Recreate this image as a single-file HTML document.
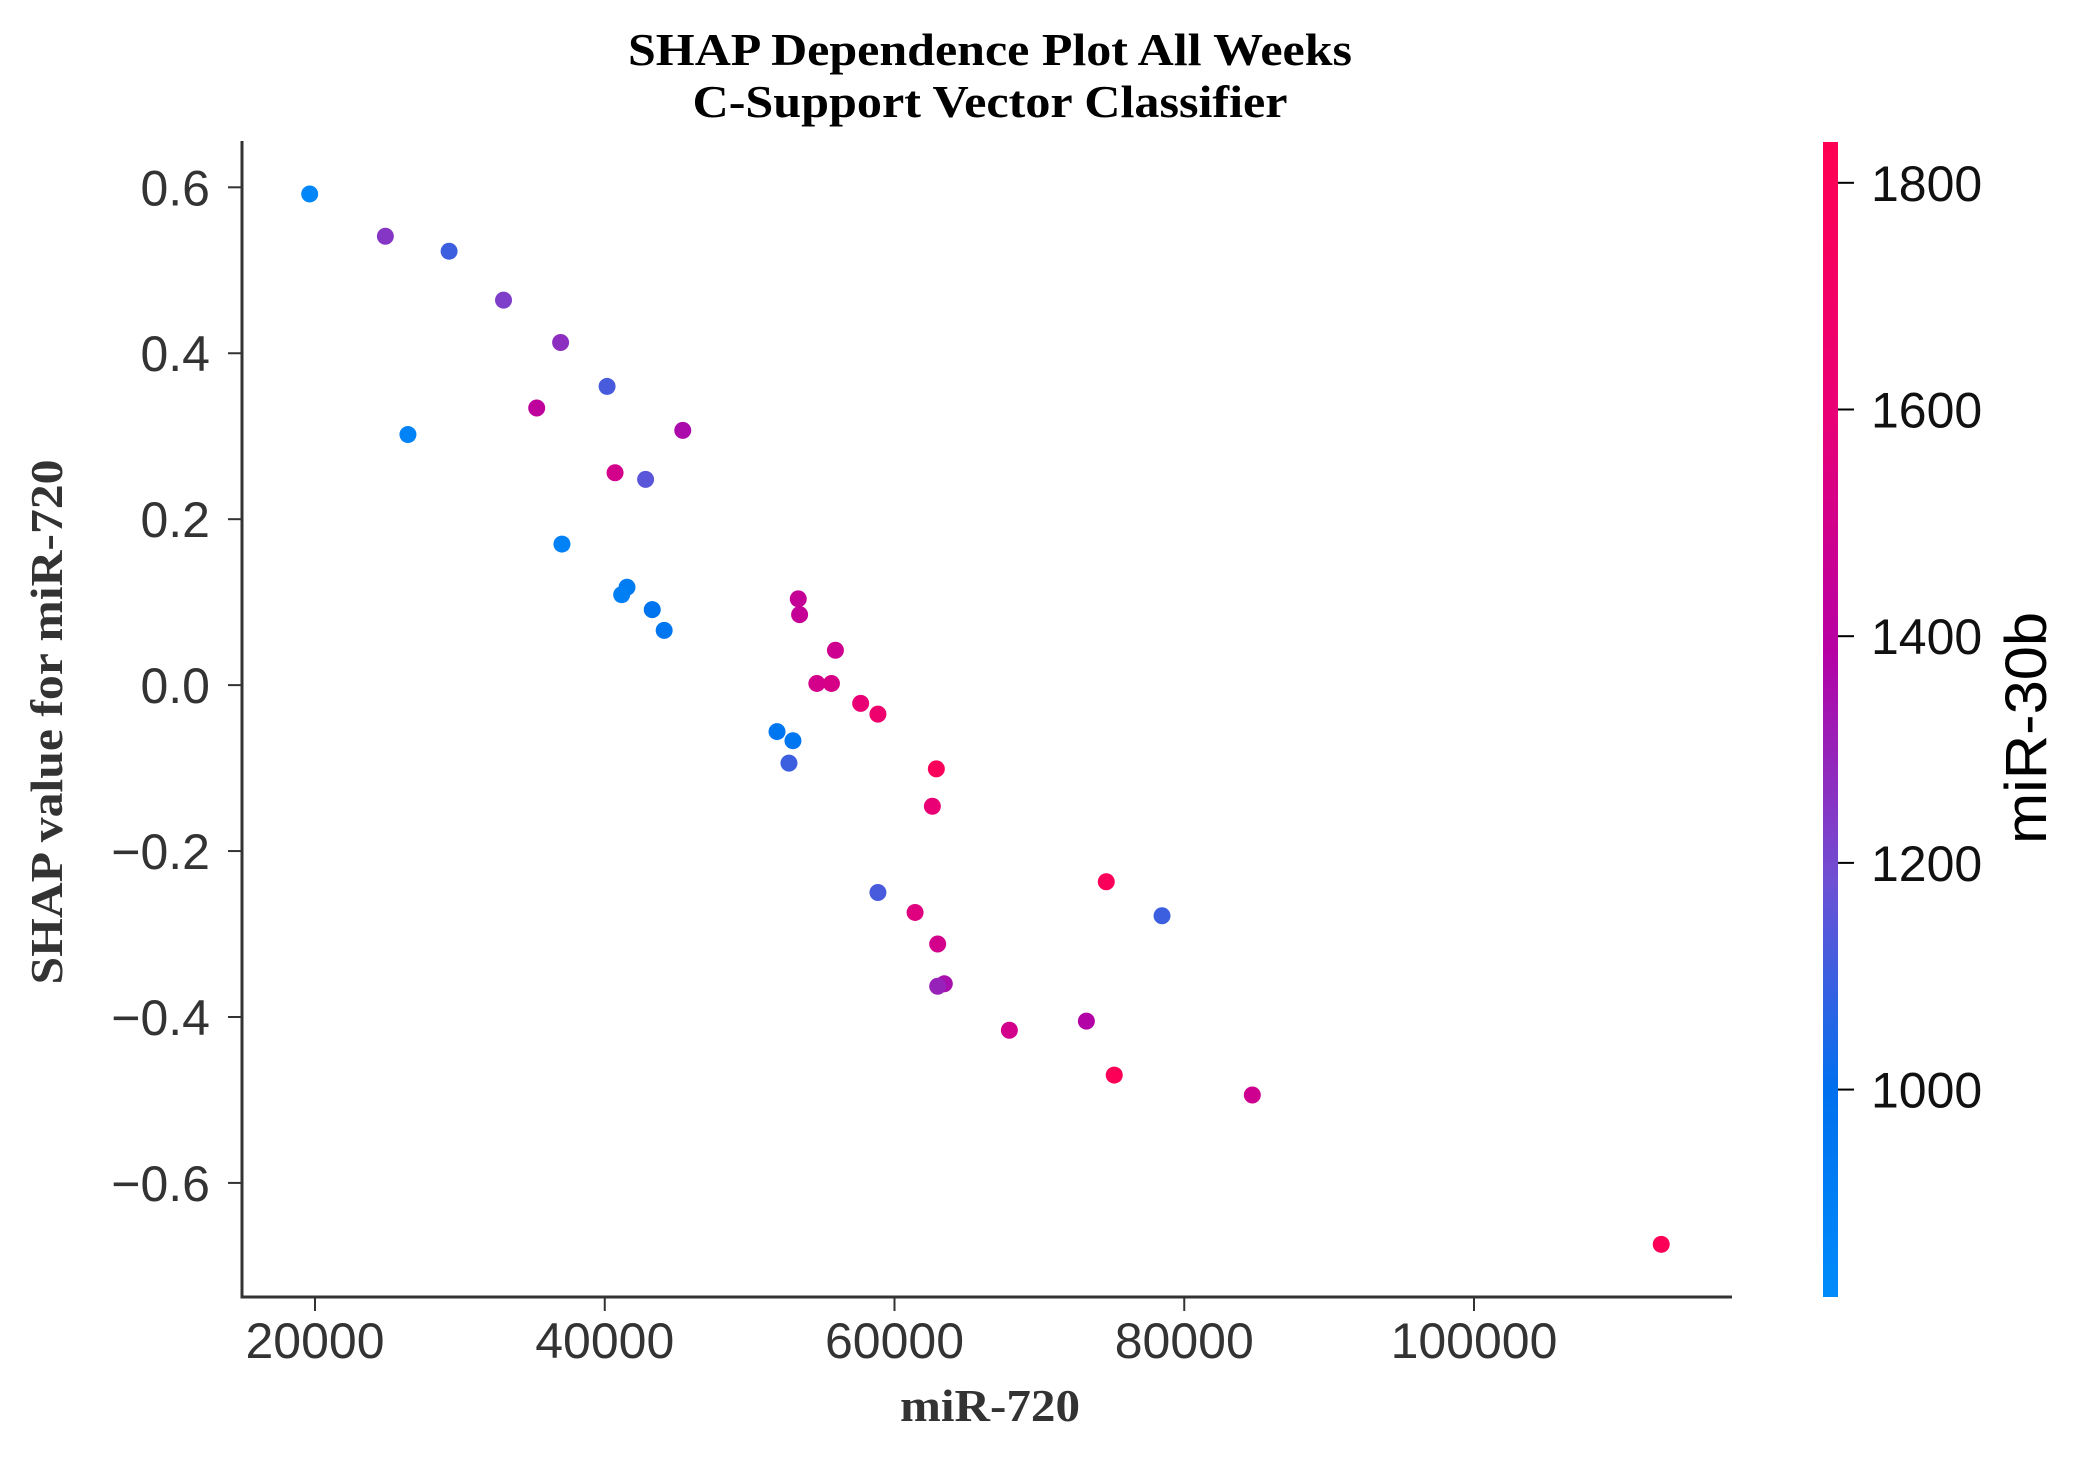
<!DOCTYPE html>
<html><head><meta charset="utf-8"><style>html,body{margin:0;padding:0;background:#fff}svg{display:block}</style></head>
<body>
<svg id="chart" width="2082" height="1463" viewBox="0 0 2082 1463" xmlns="http://www.w3.org/2000/svg">
<defs>
<linearGradient id="cb" x1="0" y1="1" x2="0" y2="0">
<stop offset="0" stop-color="rgb(0,139,250)"/>
<stop offset="0.18" stop-color="rgb(0,112,238)"/>
<stop offset="0.36" stop-color="rgb(110,80,212)"/>
<stop offset="0.56" stop-color="rgb(182,0,164)"/>
<stop offset="0.76" stop-color="rgb(232,0,118)"/>
<stop offset="1" stop-color="rgb(255,0,82)"/>
</linearGradient>
</defs>
<text x="990" y="65" text-anchor="middle" font-family="Liberation Serif, serif" font-weight="bold" font-size="46" textLength="724" lengthAdjust="spacingAndGlyphs">SHAP Dependence Plot All Weeks</text>
<text x="990" y="117" text-anchor="middle" font-family="Liberation Serif, serif" font-weight="bold" font-size="46" textLength="595" lengthAdjust="spacingAndGlyphs">C-Support Vector Classifier</text>
<g id="axes"></g>
<g id="points"></g>
<text x="990" y="1421" text-anchor="middle" font-family="Liberation Serif, serif" font-weight="bold" font-size="46" fill="#333" textLength="180" lengthAdjust="spacingAndGlyphs">miR-720</text>
<text transform="translate(62,722) rotate(-90)" text-anchor="middle" font-family="Liberation Serif, serif" font-weight="bold" font-size="46" fill="#333" textLength="525" lengthAdjust="spacingAndGlyphs">SHAP value for miR-720</text>
<rect x="1823" y="142" width="15" height="1155" fill="url(#cb)"/>
<g id="cbticks"></g>
<text transform="translate(2046,728) rotate(-90)" text-anchor="middle" font-family="Liberation Sans, sans-serif" font-size="58" fill="#000" textLength="232" lengthAdjust="spacingAndGlyphs">miR-30b</text>
</svg>
<script>
const xValues = [19633,24857,29256,33013,36953,40161,35304,26415,45384,40711,42819,37045,41535,41168,43277,44101,53357,53449,55923,54640,55648,57664,58855,51891,52990,52715,62888,62613,58855,74617,61421,78466,62980,63438,62980,67929,73244,75168,84698,112923];
const shapValues = [0.592,0.541,0.523,0.464,0.413,0.36,0.334,0.302,0.307,0.256,0.248,0.17,0.118,0.109,0.091,0.066,0.104,0.085,0.042,0.002,0.002,-0.022,-0.035,-0.056,-0.067,-0.094,-0.101,-0.146,-0.25,-0.237,-0.274,-0.278,-0.312,-0.36,-0.363,-0.416,-0.405,-0.47,-0.494,-0.674];
const colorValues = [850,1250,1100,1230,1270,1120,1420,870,1360,1500,1150,880,920,900,980,960,1450,1450,1480,1500,1520,1600,1650,950,960,1100,1780,1600,1120,1780,1550,1100,1500,1350,1300,1500,1380,1800,1480,1800];
const xTicks = [20000,40000,60000,80000,100000];
const yTicks = [0.6,0.4,0.2,0.0,-0.2,-0.4,-0.6];
const yTickLabels = ["0.6","0.4","0.2","0.0","\u22120.2","\u22120.4","\u22120.6"];
const cTicks = [1000,1200,1400,1600,1800];

const NS="http://www.w3.org/2000/svg";
const X0=242, X1=1732, Y0=145, Y1=1297, AXTOP=141;
const xMin=14961, xMax=117808, yMin=-0.7375, yMax=0.651;
const cMin=817, cMax=1836;
const xs=v=>X0+(v-xMin)/(xMax-xMin)*(X1-X0);
const ys=v=>Y1-(v-yMin)/(yMax-yMin)*(Y1-Y0);
const cs=v=>1297-(v-cMin)/(cMax-cMin)*1155;
const stops=[[0,[0,139,250]],[0.18,[0,112,238]],[0.36,[110,80,212]],[0.56,[182,0,164]],[0.76,[232,0,118]],[1,[255,0,82]]];
function col(v){let t=Math.max(0,Math.min(1,(v-cMin)/(cMax-cMin)));
 for(let i=1;i<stops.length;i++){if(t<=stops[i][0]){const a=stops[i-1],b=stops[i];const f=(t-a[0])/(b[0]-a[0]);
 return 'rgb('+a[1].map((c,k)=>Math.round(c+(b[1][k]-c)*f)).join(',')+')';}}return 'rgb(255,0,82)';}
function mk(tag,attrs,parent){const e=document.createElementNS(NS,tag);for(const k in attrs)e.setAttribute(k,attrs[k]);parent.appendChild(e);return e;}
const ax=document.getElementById('axes');
let e=mk('line',{x1:X0,y1:AXTOP,x2:X0,y2:Y1+1.5,stroke:'#333','stroke-width':3},ax);


e=mk('line',{x1:X0-1.5,y1:Y1,x2:X1,y2:Y1,stroke:'#333','stroke-width':3},ax);


xTicks.forEach(v=>{const x=xs(v);
 let t=mk('line',{x1:x,y1:Y1,x2:x,y2:Y1+14,stroke:'#333','stroke-width':2},ax);
 
 
 let l=mk('text',{x:x,y:1358,'text-anchor':'middle','font-family':'Liberation Sans, sans-serif','font-size':50,fill:'#333'},ax);
 l.textContent=String(v);
 
 });
yTicks.forEach((v,i)=>{const y=ys(v);
 let t=mk('line',{x1:X0-14,y1:y,x2:X0,y2:y,stroke:'#333','stroke-width':2},ax);
 
 
 let l=mk('text',{x:210,y:y+18,'text-anchor':'end','font-family':'Liberation Sans, sans-serif','font-size':50,fill:'#333'},ax);
 l.textContent=yTickLabels[i];
 
 });
const cb=document.getElementById('cbticks');
cTicks.forEach(v=>{const y=cs(v);
 let t=mk('line',{x1:1838,y1:y,x2:1854,y2:y,stroke:'#000','stroke-width':2},cb);
 
 
 let l=mk('text',{x:1871,y:y+18,'font-family':'Liberation Sans, sans-serif','font-size':50,fill:'#111'},cb);
 l.textContent=String(v);
 
 });
const pts=document.getElementById('points');
xValues.forEach((v,i)=>{
 let c=mk('circle',{cx:xs(v),cy:ys(shapValues[i]),r:8.5,fill:col(colorValues[i])},pts);
 
 });
</script>
</body></html>
